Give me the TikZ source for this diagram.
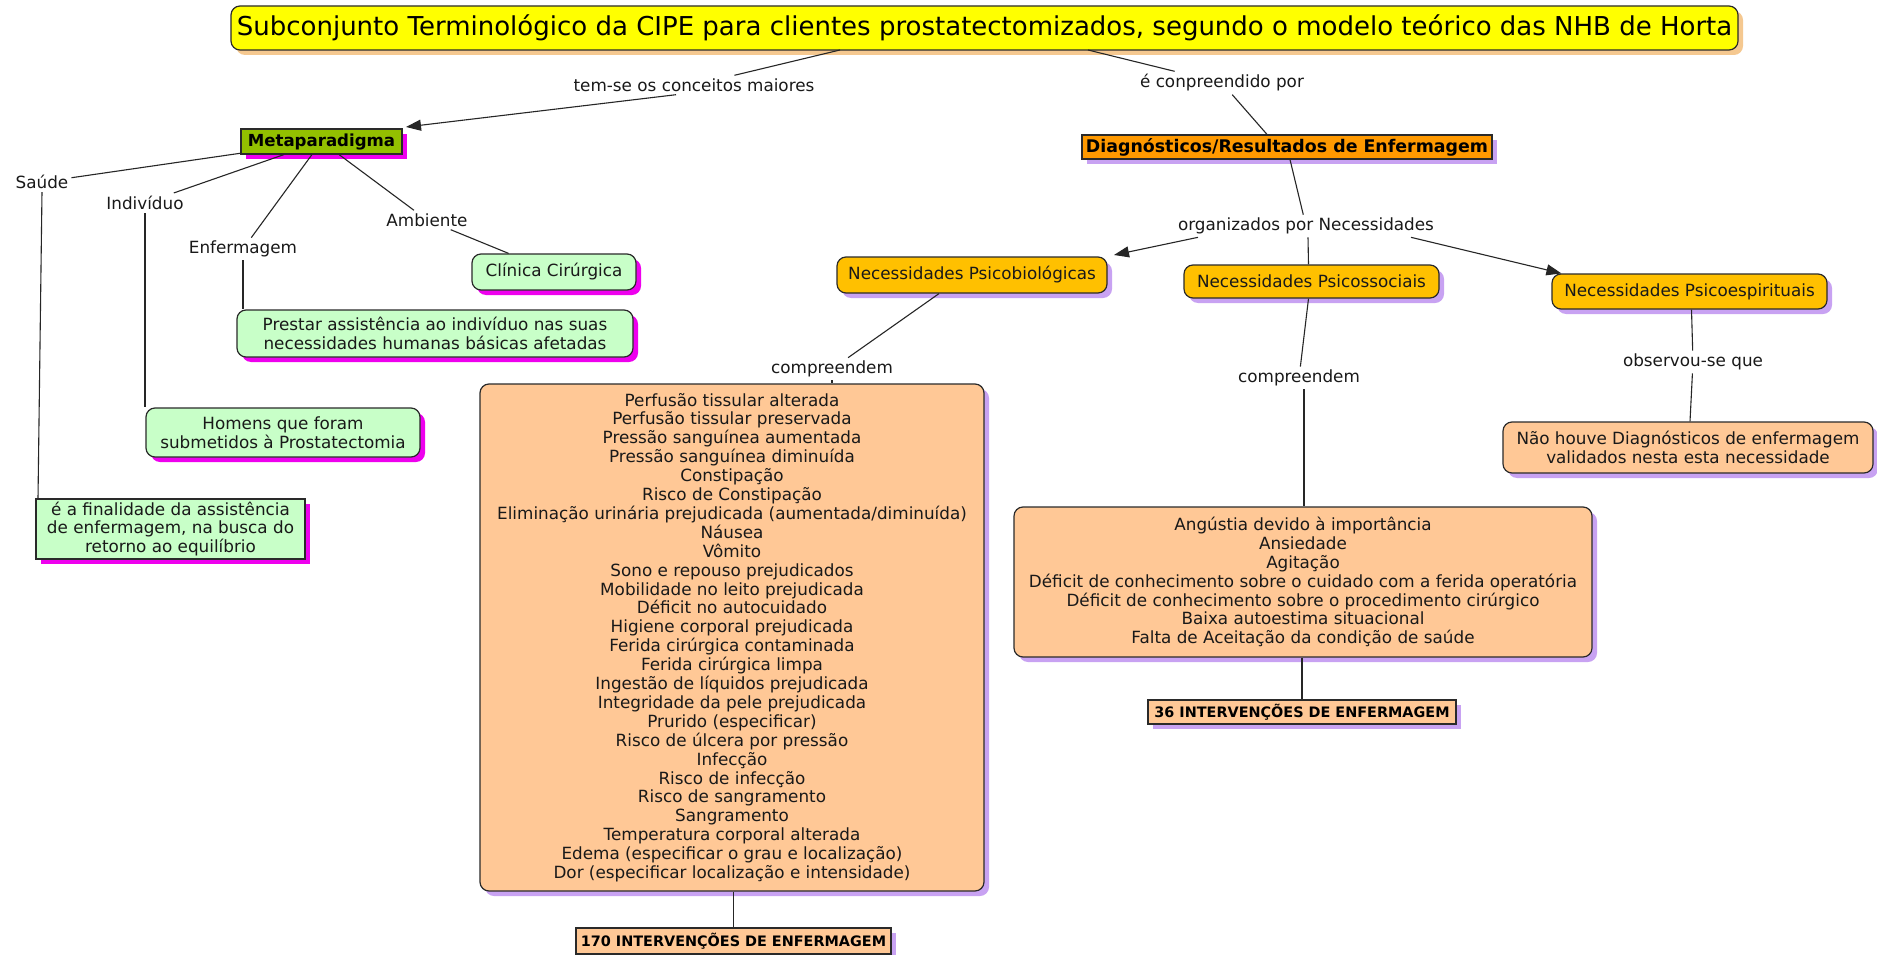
\documentclass[tikz,border=0pt]{standalone}
\usepackage{fontspec}
\setmainfont{DejaVu Sans}
\usetikzlibrary{shadows,arrows.meta}
\definecolor{ttlY}{HTML}{FFFF00}
\definecolor{ttlS}{HTML}{F5C890}
\definecolor{metaG}{HTML}{93C000}
\definecolor{magS}{HTML}{EE00EE}
\definecolor{lgreen}{HTML}{C8FFC8}
\definecolor{orD}{HTML}{FF9900}
\definecolor{goldN}{HTML}{FFC000}
\definecolor{peach}{HTML}{FFC896}
\definecolor{lavS}{HTML}{C8A2F2}
\definecolor{bord}{HTML}{2A2A2A}
\begin{document}
\begin{tikzpicture}[x=1pt,y=-1pt,
  txt/.style={font=\fontsize{16.8}{18.9}\selectfont, align=center, text=black!90},
  btxt/.style={font=\fontsize{#1}{18}\selectfont\bfseries, align=center},
  lab/.style={txt, inner sep=3pt},
  boxbase/.style={draw=bord, line width=1.2pt, inner sep=0pt},
  sqbox/.style={boxbase},
  rbox/.style={boxbase, rounded corners=9pt},
  shM/.style={drop shadow={shadow xshift=5pt,shadow yshift=-5pt,fill=magS,opacity=1}},
  shL/.style={drop shadow={shadow xshift=5pt,shadow yshift=-5pt,fill=lavS,opacity=1}},
  shT/.style={drop shadow={shadow xshift=5pt,shadow yshift=-5pt,fill=ttlS,opacity=1}},
  conn/.style={draw=black!85, line width=1.1pt},
  arr/.style={conn, -{Triangle[length=15pt,width=11pt]}}
]
\useasboundingbox[fill=white] (0,0) rectangle (1877,955);

% title
\node[rbox, fill=ttlY, shT, minimum width=1507pt, minimum height=44pt,
      font=\fontsize{26}{30}\selectfont] (title) at (984.5,28) {Subconjunto Terminológico da CIPE para clientes prostatectomizados, segundo o modelo teórico das NHB de Horta};

% left part
\node[sqbox, fill=metaG, shM, btxt=16.6, minimum width=161pt, minimum height=25pt] (meta) at (321.5,141.5) {Metaparadigma};
\node[lab] (temse) at (694,85) {tem-se os conceitos maiores};
\node[lab] (saude) at (42,182) {Saúde};
\node[lab] (ind) at (145,203) {Indivíduo};
\node[lab] (enf) at (243,249) {Enfermagem};
\node[lab] (amb) at (427,220) {Ambiente};
\node[rbox, fill=lgreen, shM, txt, minimum width=164pt, minimum height=36pt] (clin) at (554,272) {Clínica Cirúrgica};
\node[rbox, fill=lgreen, shM, txt, minimum width=396pt, minimum height=47pt] (prest) at (435,333.5) {Prestar assistência ao indivíduo nas suas\\ necessidades humanas básicas afetadas};
\node[rbox, fill=lgreen, shM, txt, minimum width=274pt, minimum height=49pt] (hom) at (283,432.5) {Homens que foram\\submetidos à Prostatectomia};
\node[sqbox, fill=lgreen, shM, txt, minimum width=269pt, minimum height=60pt] (fin) at (170.5,529) {é a finalidade da assistência\\de enfermagem, na busca do\\retorno ao equilíbrio};

% right part
\node[lab] (econp) at (1222,83) {é conpreendido por};
\node[sqbox, fill=orD, shL, btxt=17.4, minimum width=410pt, minimum height=24pt] (diag) at (1287,147) {Diagnósticos/Resultados de Enfermagem};
\node[lab] (org) at (1306,226) {organizados por Necessidades};
\node[rbox, fill=goldN, shL, txt, minimum width=270pt, minimum height=36pt] (psib) at (972,275) {Necessidades Psicobiológicas};
\node[rbox, fill=goldN, shL, txt, minimum width=255pt, minimum height=33pt] (psis) at (1311.5,281.5) {Necessidades Psicossociais};
\node[rbox, fill=goldN, shL, txt, minimum width=275pt, minimum height=35pt] (psie) at (1689.5,291.5) {Necessidades Psicoespirituais};

\node[lab] (comp1) at (832,369) {compreendem};
\node[rbox, fill=peach, shL, txt, minimum width=504pt, minimum height=507pt] (big) at (732,637.5) {Perfusão tissular alterada\\
Perfusão tissular preservada\\
Pressão sanguínea aumentada\\
Pressão sanguínea diminuída\\
Constipação\\
Risco de Constipação\\
Eliminação urinária prejudicada (aumentada/diminuída)\\
Náusea\\
Vômito\\
Sono e repouso prejudicados\\
Mobilidade no leito prejudicada\\
Déficit no autocuidado\\
Higiene corporal prejudicada\\
Ferida cirúrgica contaminada\\
Ferida cirúrgica limpa\\
Ingestão de líquidos prejudicada\\
Integridade da pele prejudicada\\
Prurido (especificar)\\
Risco de úlcera por pressão\\
Infecção\\
Risco de infecção\\
Risco de sangramento\\
Sangramento\\
Temperatura corporal alterada\\
Edema (especificar o grau e localização)\\
Dor (especificar localização e intensidade)};
\node[sqbox, fill=peach, shL, btxt=14.4, minimum width=315pt, minimum height=26pt] (i170) at (733.5,941) {170 INTERVENÇÕES DE ENFERMAGEM};

\node[lab] (comp2) at (1299,378) {compreendem};
\node[rbox, fill=peach, shL, txt, minimum width=578pt, minimum height=150pt] (psl) at (1303,582) {Angústia devido à importância\\
Ansiedade\\
Agitação\\
Déficit de conhecimento sobre o cuidado com a ferida operatória\\
Déficit de conhecimento sobre o procedimento cirúrgico\\
Baixa autoestima situacional\\
Falta de Aceitação da condição de saúde};
\node[sqbox, fill=peach, shL, btxt=14.4, minimum width=308pt, minimum height=24pt] (i36) at (1302,712) {36 INTERVENÇÕES DE ENFERMAGEM};

\node[lab] (obs) at (1693,362) {observou-se que};
\node[rbox, fill=peach, shL, txt, minimum width=370pt, minimum height=51pt] (nao) at (1688,447.5) {Não houve Diagnósticos de enfermagem\\validados nesta esta necessidade};

% coordinates for connector ends
\coordinate (t1) at (840,50);
\coordinate (t2) at (1088,50);
\coordinate (fintop) at (38,499);
\coordinate (metatip) at (406,127);
\coordinate (psibtip) at (1114,255);

% connectors
\draw[conn] (t1) -- (temse);
\draw[arr] ([xshift=-18pt]temse.south) -- (metatip);
\draw[conn] (meta) -- (saude);
\draw[conn] (meta) -- (ind);
\draw[conn] (meta) -- (enf);
\draw[conn] (meta) -- (amb);
\draw[conn] (amb) -- (clin);
\draw[conn] (enf.south) -- (enf.south |- prest.north);
\draw[conn] (ind.south) -- (ind.south |- hom.north);
\draw[conn] (saude.south) -- (fintop);

\draw[conn] (t2) -- (econp);
\draw[conn] (econp) -- ([xshift=-20pt]diag.north);
\draw[conn] ([xshift=3pt]diag.south) -- (org);
\draw[arr] ([xshift=-108pt]org.south) -- (psibtip);
\draw[arr] ([xshift=105pt]org.south) -- ([xshift=10pt]psie.north west);
\draw[conn] ([xshift=2pt]org.south) -- ([xshift=-3pt]psis.north);
\draw[conn] ([xshift=-33pt]psib.south) -- (comp1);
\draw[conn] (comp1.south) -- (comp1.south |- big.north);
\draw[conn] (big.south -| i170.north) -- (i170.north);
\draw[conn] ([xshift=-3pt]psis.south) -- (comp2);
\draw[conn] ([xshift=5pt]comp2.south) -- ([xshift=1pt]psl.north);
\draw[conn] (psl.south -| i36.north) -- (i36.north);
\draw[conn] ([xshift=2pt]psie.south) -- (obs);
\draw[conn] (obs) -- ([xshift=2pt]nao.north);
\end{tikzpicture}
\end{document}
